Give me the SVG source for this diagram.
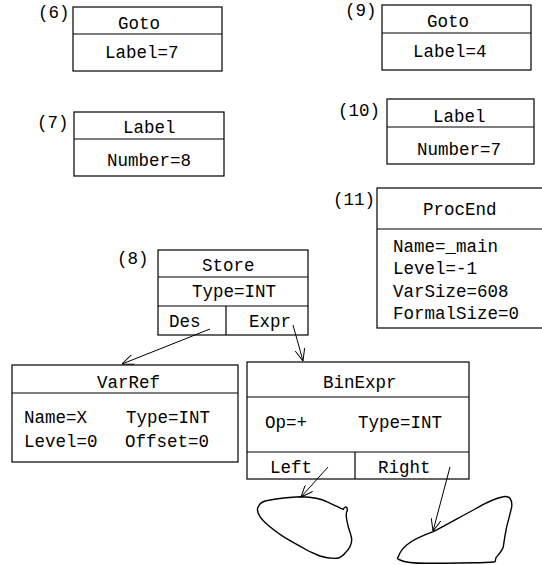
<svg xmlns="http://www.w3.org/2000/svg" width="542" height="565" viewBox="0 0 542 565">
<defs>
<style>
text{font-family:"Liberation Mono","Courier New",monospace;font-size:17.5px;fill:#000}
.b{fill:#fff;stroke:#000;stroke-width:1.2}
.l{stroke:#000;stroke-width:1.2;fill:none}
.c{stroke:#000;stroke-width:1;fill:none}
.blob{stroke:#000;stroke-width:1.4;fill:none}
</style>
<marker id="ah" viewBox="0 0 12 10" refX="12" refY="5" markerWidth="12" markerHeight="10" markerUnits="userSpaceOnUse" orient="auto">
<polyline points="0,0 12,5 0,10" fill="none" stroke="#000" stroke-width="1"/>
</marker>
</defs>
<rect width="542" height="565" fill="#fff"/>

<g id="n6">
<text x="38" y="18">(6)</text>
<rect class="b" x="73" y="7" width="149" height="64"/>
<line class="l" x1="73" y1="34" x2="222" y2="34"/>
<text x="118" y="29">Goto</text>
<text x="105" y="58">Label=7</text>
</g>

<g id="n7">
<text x="37" y="128">(7)</text>
<rect class="b" x="74" y="112" width="150" height="64"/>
<line class="l" x1="74" y1="139" x2="224" y2="139"/>
<text x="123" y="133">Label</text>
<text x="107" y="166">Number=8</text>
</g>

<g id="n9">
<text x="345" y="16">(9)</text>
<rect class="b" x="382" y="5" width="149" height="65"/>
<line class="l" x1="382" y1="33" x2="531" y2="33"/>
<text x="427" y="27">Goto</text>
<text x="413" y="57">Label=4</text>
</g>

<g id="n10">
<text x="338" y="116">(10)</text>
<rect class="b" x="387" y="99" width="147" height="65"/>
<line class="l" x1="387" y1="127" x2="534" y2="127"/>
<text x="433" y="122">Label</text>
<text x="417" y="155">Number=7</text>
</g>

<g id="n11">
<text x="333" y="205">(11)</text>
<rect class="b" x="377" y="188" width="170" height="140"/>
<line class="l" x1="377" y1="229" x2="547" y2="229"/>
<text x="423" y="215">ProcEnd</text>
<text x="393" y="252">Name=_main</text>
<text x="393" y="274">Level=-1</text>
<text x="393" y="297">VarSize=608</text>
<text x="393" y="319">FormalSize=0</text>
</g>

<g id="n8">
<text x="117" y="264">(8)</text>
<rect class="b" x="158" y="250" width="150" height="85"/>
<line class="l" x1="158" y1="277" x2="308" y2="277"/>
<line class="l" x1="158" y1="306" x2="308" y2="306"/>
<line class="l" x1="226" y1="306" x2="226" y2="335"/>
<text x="202" y="271">Store</text>
<text x="192" y="297">Type=INT</text>
<text x="169" y="327">Des</text>
<text x="249" y="327">Expr</text>
</g>

<g id="varref">
<rect class="b" x="12" y="365" width="226" height="97"/>
<line class="l" x1="12" y1="393" x2="238" y2="393"/>
<text x="97" y="388">VarRef</text>
<text x="24" y="423">Name=X</text>
<text x="126" y="423">Type=INT</text>
<text x="24" y="447">Level=0</text>
<text x="125" y="447">Offset=0</text>
</g>

<g id="binexpr">
<rect class="b" x="247" y="362" width="222" height="117"/>
<line class="l" x1="247" y1="397" x2="469" y2="397"/>
<line class="l" x1="247" y1="452" x2="469" y2="452"/>
<line class="l" x1="355" y1="452" x2="355" y2="479"/>
<text x="323" y="388">BinExpr</text>
<text x="265" y="428">Op=+</text>
<text x="358" y="428">Type=INT</text>
<text x="270" y="473">Left</text>
<text x="378" y="473">Right</text>
</g>

<g id="blob-left">
<path class="blob" d="M301,496.7 C312,497 320,498 326.7,501.7 C334,505 340,508 343.3,509.3 C345,506 347.5,506 347.3,510.7 C346,512 346,518 348.3,526.7 C350,533 352,537 351.7,540 C351.5,545 350,548 346,552 C343,556 340,558.3 336,558.3 C330,558.5 327,558.3 320,556 C313,553 308,551 306.7,550 C298,545 290,541 283.3,536.7 C272,529 264,523 260,516.7 C257,512 257,508 258.3,506.7 C260,503 262,502 265,501 C275,499 290,497 301,496.7 Z"/>
</g>

<g id="blob-right">
<path class="blob" d="M433.3,531.7 C448,524 462,516 473.3,510 C485,503 495,498 503.3,496.7 C507,496 509,497 510,498.3 C512,501 512,504 511.7,506.7 C510,515 508,521 506.7,526.7 C505,535 504,542 503.3,546.7 C502,551 499,554 496.7,556.7 C495,558 496,560 495,561.7 C488,562.5 481,562.7 473.3,562.7 C458,563 440,563.3 426.7,563.3 C412,563.3 404,562 400,560 C397,559 397,558 398.3,556.7 C400,552 403,548 406.7,545 C414,539 424,535 433.3,531.7 Z"/>
</g>

<g id="connectors">
<line class="c" x1="210" y1="329" x2="122" y2="364" marker-end="url(#ah)"/>
<line class="c" x1="293" y1="325" x2="303" y2="361" marker-end="url(#ah)"/>
<line class="c" x1="328" y1="467" x2="301" y2="497" marker-end="url(#ah)"/>
<line class="c" x1="450" y1="467" x2="433" y2="531" marker-end="url(#ah)"/>
</g>
</svg>
